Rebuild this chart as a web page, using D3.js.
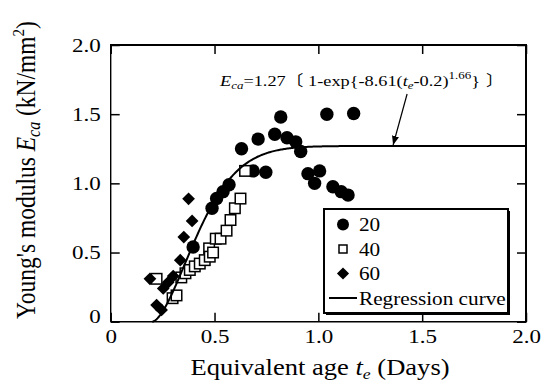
<!DOCTYPE html>
<html>
<head>
<meta charset="utf-8">
<script src="https://cdn.jsdelivr.net/npm/d3@7/dist/d3.min.js"></script>
<style>
  html, body { margin: 0; padding: 0; background: #fff; }
  svg { display: block; }
  text { font-family: "Liberation Serif", "Tinos", "Times New Roman", "Nimbus Roman", "DejaVu Serif", serif; fill: #000; }
</style>
</head>
<body>
<svg id="chart" width="547" height="385"></svg>
<script>
// Equivalent age t_e (days) and Young's modulus E_ca (kN/mm2) per curing temperature
const t20 = [0.397, 0.488, 0.510, 0.541, 0.570, 0.630, 0.686, 0.710, 0.747, 0.790, 0.819, 0.849, 0.891, 0.915, 0.950, 0.982, 1.006, 1.041, 1.070, 1.110, 1.143, 1.170];
const e20 = [0.54, 0.82, 0.89, 0.94, 0.99, 1.25, 1.09, 1.32, 1.08, 1.355, 1.48, 1.33, 1.30, 1.23, 1.07, 1.00, 1.09, 1.50, 0.975, 0.94, 0.915, 1.505];

const t40 = [0.221, 0.298, 0.317, 0.340, 0.360, 0.381, 0.405, 0.429, 0.453, 0.474, 0.477, 0.493, 0.506, 0.529, 0.558, 0.577, 0.598, 0.625, 0.647];
const e40 = [0.31, 0.17, 0.19, 0.32, 0.35, 0.374, 0.40, 0.42, 0.445, 0.53, 0.47, 0.50, 0.60, 0.60, 0.658, 0.735, 0.82, 0.89, 1.09];

const t60 = [0.189, 0.221, 0.245, 0.253, 0.277, 0.301, 0.335, 0.352, 0.392, 0.375];
const e60 = [0.31, 0.12, 0.085, 0.24, 0.285, 0.33, 0.445, 0.612, 0.728, 0.888];

// Regression: E_ca = 1.27 [1 - exp{-8.61 (t_e - 0.2)^1.66}]
const regA = 1.27, regB = 8.61, regT0 = 0.2, regN = 1.66;

const xTicks = [0, 0.5, 1.0, 1.5, 2.0];
const xTickLabels = ["0", "0.5", "1.0", "1.5", "2.0"];
const yTicks = [0, 0.5, 1.0, 1.5, 2.0];
const yTickLabels = ["0", "0.5", "1.0", "1.5", "2.0"];
const legendLabels = ["20", "40", "60", "Regression curve"];

const svg = d3.select("#chart");
const pLeft = 110.7, pRight = 526, pTop = 45, pBottom = 321.7;
const x = d3.scaleLinear().domain([0, 2]).range([pLeft, pRight]);
const y = d3.scaleLinear().domain([0, 2]).range([pBottom, pTop]);

// Glyphs are set a little wide (horizontal stretch)
const sx = 1.18;
const tickFont = 19.5;

// Axes with inward ticks on all four sides
const tickLen = 9;
const gx = svg.append("g").attr("transform", `translate(0,${pBottom})`)
  .call(d3.axisBottom(x).tickValues(xTicks).tickSize(-tickLen).tickPadding(7.5)
    .tickFormat((d, i) => xTickLabels[i]));
const gy = svg.append("g").attr("transform", `translate(${pLeft},0)`)
  .call(d3.axisLeft(y).tickValues(yTicks).tickSize(-tickLen).tickPadding(10 / sx)
    .tickFormat((d, i) => yTickLabels[i]));
const gt = svg.append("g").attr("transform", `translate(0,${pTop})`)
  .call(d3.axisTop(x).tickValues(xTicks).tickSize(-tickLen).tickFormat(""));
const gr = svg.append("g").attr("transform", `translate(${pRight},0)`)
  .call(d3.axisRight(y).tickValues(yTicks).tickSize(-tickLen).tickFormat(""));
[gx, gy, gt, gr].forEach(g => {
  g.select(".domain").remove();
  g.selectAll(".tick line").attr("stroke", "#000").attr("stroke-width", 1.5);
  g.selectAll(".tick text").attr("font-size", tickFont).attr("transform", `scale(${sx},1)`);
});
// lift the "0" on the value axis clear of the corner
gy.selectAll(".tick text").filter(d => d === 0).attr("dy", "0.05em");

// Plot frame: heavier on top and right
const frame = svg.append("g").attr("stroke", "#000").attr("fill", "none");
frame.append("line").attr("x1", pLeft).attr("x2", pRight).attr("y1", pBottom).attr("y2", pBottom).attr("stroke-width", 1.4);
frame.append("line").attr("x1", pLeft).attr("x2", pLeft).attr("y1", pTop).attr("y2", pBottom).attr("stroke-width", 1.4);
frame.append("line").attr("x1", pLeft - 0.7).attr("x2", pRight + 1).attr("y1", pTop).attr("y2", pTop).attr("stroke-width", 2);
frame.append("line").attr("x1", pRight).attr("x2", pRight).attr("y1", pTop).attr("y2", pBottom + 0.7).attr("stroke-width", 2);

// Markers
const plot = svg.append("g");
const circleR = 6.7, squareS = 10.5, diamondS = 9;

plot.selectAll("circle.s20").data(d3.zip(t20, e20)).join("circle")
  .attr("class", "s20")
  .attr("cx", d => x(d[0])).attr("cy", d => y(d[1])).attr("r", circleR)
  .attr("fill", "#000");

plot.selectAll("rect.s40").data(d3.zip(t40, e40)).join("rect")
  .attr("class", "s40")
  .attr("x", d => x(d[0]) - squareS / 2).attr("y", d => y(d[1]) - squareS / 2)
  .attr("width", squareS).attr("height", squareS)
  .attr("fill", "#fff").attr("stroke", "#000").attr("stroke-width", 1.5);

plot.selectAll("rect.s60").data(d3.zip(t60, e60)).join("rect")
  .attr("class", "s60")
  .attr("x", -diamondS / 2).attr("y", -diamondS / 2)
  .attr("width", diamondS).attr("height", diamondS)
  .attr("transform", d => `translate(${x(d[0])},${y(d[1])}) rotate(45)`)
  .attr("fill", "#000");

// Regression curve
const curveT = d3.range(regT0, 2.0001, 0.005);
const reg = t => regA * (1 - Math.exp(-regB * Math.pow(Math.max(t - regT0, 0), regN)));
svg.append("path")
  .datum(curveT)
  .attr("d", d3.line().x(t => x(t)).y(t => y(reg(t))))
  .attr("fill", "none").attr("stroke", "#000").attr("stroke-width", 2);

// Equation annotation
const eq = svg.append("text").attr("transform", `translate(220,85.5) scale(${sx},1)`).attr("font-size", 15.5);
eq.append("tspan").attr("font-style", "italic").text("E");
eq.append("tspan").attr("font-style", "italic").attr("font-size", 11).attr("dy", 3).text("ca");
eq.append("tspan").attr("dy", -3).text("=1.27");
eq.append("tspan").style("font-family", "'Noto Sans CJK JP'").attr("font-size", 15).text("〔");
eq.append("tspan").attr("dx", 4).text("1-exp{-8.61(");
eq.append("tspan").attr("font-style", "italic").text("t");
eq.append("tspan").attr("font-style", "italic").attr("font-size", 11).attr("dy", 3).text("e");
eq.append("tspan").attr("dy", -3).text("-0.2)");
eq.append("tspan").attr("font-size", 11).attr("dy", -7).text("1.66");
eq.append("tspan").attr("dy", 7).text("}");
eq.append("tspan").style("font-family", "'Noto Sans CJK JP'").attr("font-size", 15).attr("dx", 5).text("〕");

const defs = svg.append("defs");
defs.append("marker").attr("id", "arrowhead")
  .attr("viewBox", "0 0 10 10").attr("refX", 10).attr("refY", 5)
  .attr("markerWidth", 9).attr("markerHeight", 9).attr("markerUnits", "userSpaceOnUse")
  .attr("orient", "auto")
  .append("path").attr("d", "M0,1 L10,5 L0,9 Z").attr("fill", "#000");
const arrowT = 1.36;
svg.append("line")
  .attr("x1", x(arrowT) + 14).attr("y1", 94)
  .attr("x2", x(arrowT)).attr("y2", y(reg(arrowT)) - 1)
  .attr("stroke", "#000").attr("stroke-width", 1.2)
  .attr("marker-end", "url(#arrowhead)");

// Legend
const lg = svg.append("g");
const lgX = 324, lgY = 209, lgW = 184, lgH = 104;
lg.append("rect").attr("x", lgX + 2).attr("y", lgY + 2).attr("width", lgW).attr("height", lgH)
  .attr("fill", "#000");
lg.append("rect").attr("x", lgX).attr("y", lgY).attr("width", lgW).attr("height", lgH)
  .attr("fill", "#fff").attr("stroke", "#000").attr("stroke-width", 2);
const rowY = i => 224.5 + i * 24.5;
const mx = 343;
lg.append("circle").attr("cx", mx).attr("cy", rowY(0)).attr("r", 6).attr("fill", "#000");
lg.append("rect").attr("x", mx - 4).attr("y", rowY(1) - 4).attr("width", 8).attr("height", 8)
  .attr("fill", "#fff").attr("stroke", "#000").attr("stroke-width", 1.5);
lg.append("rect").attr("x", -4.3).attr("y", -4.3).attr("width", 8.6).attr("height", 8.6)
  .attr("transform", `translate(${mx},${rowY(2)}) rotate(45)`).attr("fill", "#000");
lg.append("line").attr("x1", 329).attr("x2", 357).attr("y1", rowY(3)).attr("y2", rowY(3))
  .attr("stroke", "#000").attr("stroke-width", 2);
lg.selectAll("text.lab").data(legendLabels).join("text").attr("class", "lab")
  .attr("transform", (d, i) => `translate(359,${rowY(i) + 6.5}) scale(${sx},1)`)
  .attr("font-size", 18).text(d => d);

// Axis titles
const xt = svg.append("text").attr("transform", `translate(320,375) scale(${sx},1)`)
  .attr("text-anchor", "middle").attr("font-size", 22.5);
xt.append("tspan").text("Equivalent age ");
xt.append("tspan").attr("font-style", "italic").text("t");
xt.append("tspan").attr("font-style", "italic").attr("font-size", 15).attr("dy", 4).text("e");
xt.append("tspan").attr("dy", -4).text(" (Days)");

const yt = svg.append("text").attr("transform", `translate(35,170) rotate(-90) scale(1,${sx})`)
  .attr("text-anchor", "middle").attr("font-size", 23.5);
yt.append("tspan").text("Young's modulus ");
yt.append("tspan").attr("font-style", "italic").text("E");
yt.append("tspan").attr("font-style", "italic").attr("font-size", 16).attr("dy", 4).text("ca");
yt.append("tspan").attr("dy", -4).text("  (kN/mm");
yt.append("tspan").attr("font-size", 15).attr("dy", -9).text("2");
yt.append("tspan").attr("dy", 9).text(")");
</script>
</body>
</html>
